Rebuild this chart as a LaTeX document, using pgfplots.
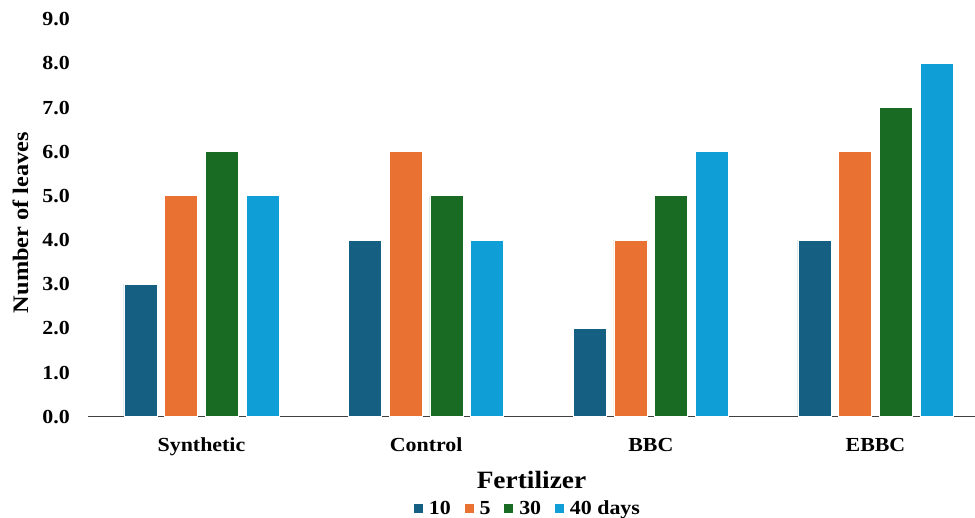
\documentclass[border=0pt]{standalone}
\usepackage{fontspec}
\setmainfont{Liberation Serif}[FakeStretch=1.1]
\usepackage{pgfplots}
\pgfplotsset{compat=1.18}
\definecolor{c1}{HTML}{156082}
\definecolor{c2}{HTML}{E97132}
\definecolor{c3}{HTML}{196B24}
\definecolor{c4}{HTML}{0F9ED5}
\begin{document}
\begin{tikzpicture}
\begin{axis}[
  scale only axis, width=887bp, height=397.5bp,
  xmin=-0.505, xmax=3.443, ymin=0, ymax=9,
  ybar=7.7bp, bar width=33bp,
  axis x line*=bottom, axis y line*=left,
  y axis line style={draw=none},
  x axis line style={draw=black!75, line width=1.2bp},
  major tick length=0pt,
  xtick={0,1,2,3}, xticklabels={Synthetic,Control,BBC,EBBC},
  ytick={0,1,...,9},
  /pgf/number format/.cd, fixed, fixed zerofill, precision=1, assume math mode=true,
  /pgfplots/.cd,
  ticklabel style={font=\fontsize{20}{24}\selectfont\bfseries},
  yticklabel style={anchor=east, inner sep=0pt, xshift=-18bp},
  xticklabel style={anchor=base, inner sep=0pt, yshift=-34.3bp},
  ylabel={Number of leaves},
  ylabel style={font=\fontsize{22.2}{26}\selectfont\bfseries, at={(axis description cs:-0.0761,0.4886)}, anchor=center, inner sep=0pt},
  xlabel={Fertilizer},
  xlabel style={font=\fontsize{25}{28}\selectfont\bfseries, at={(axis description cs:0.5,0)}, anchor=base, yshift=-71.5bp, inner sep=0pt},
  legend columns=4,
  legend style={draw=none, fill=none, at={(axis description cs:0.5,0)}, anchor=north, yshift=-82bp, xshift=-4bp,
    font=\fontsize{20}{24}\selectfont\bfseries, inner sep=0pt,
    /tikz/every odd column/.append style={column sep=3bp},
    /tikz/every even column/.append style={column sep=11bp}},
  legend image code/.code={\fill[#1] (0bp,-5bp) rectangle (10bp,5bp);},
  every axis plot/.append style={draw=white, line width=0.8bp},
]
\addplot[fill=c1] coordinates {(0,3) (1,4) (2,2) (3,4)};
\addplot[fill=c2] coordinates {(0,5) (1,6) (2,4) (3,6)};
\addplot[fill=c3] coordinates {(0,6) (1,5) (2,5) (3,7)};
\addplot[fill=c4] coordinates {(0,5) (1,4) (2,6) (3,8)};
\legend{10,5,30,40 days}
\coordinate (O) at (rel axis cs:0,0);
\end{axis}
\pgfresetboundingbox
\path[use as bounding box] (O) ++(-88bp,-101.3bp) rectangle ++(975bp,518bp);
\end{tikzpicture}
\end{document}
